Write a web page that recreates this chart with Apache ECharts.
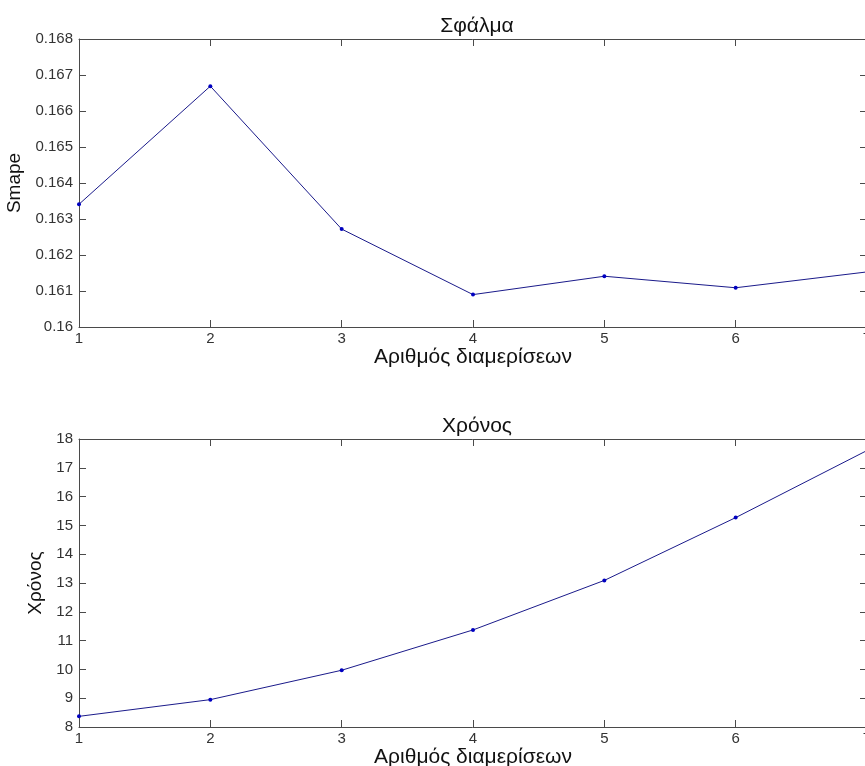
<!DOCTYPE html>
<html>
<head>
<meta charset="utf-8">
<script src="https://cdn.jsdelivr.net/npm/echarts@6/dist/echarts.min.js"></script>
<style>
  html, body { margin: 0; padding: 0; background: #fff; }
  #main { width: 865px; height: 766px; }
</style>
</head>
<body>
<div id="main"></div>
<script>
// partitions on x, one value per partition
var partitions = [1, 2, 3, 4, 5, 6, 7];
var smapeVals = [0.16341, 0.16669, 0.16272, 0.16090, 0.16141, 0.16109, 0.16153];
var timeVals = [8.37, 8.95, 9.97, 11.37, 13.09, 15.27, 17.6];

var xName = 'Αριθμός διαμερίσεων';
var font = '"Liberation Sans", Arial, sans-serif';
var axisColor = '#4a4a4a';
var lineColor = '#1a1a8a';

function pairs(ys) {
  return partitions.map(function (x, i) { return [x, ys[i]]; });
}

function boxAxis(gridIndex, pos, extra) {
  var a = {
    gridIndex: gridIndex,
    type: 'value',
    position: pos,
    axisLine: { show: true, onZero: false, lineStyle: { color: axisColor, width: 1 } },
    axisTick: { show: true, inside: true, length: 7, lineStyle: { color: axisColor } },
    axisLabel: { show: false },
    splitLine: { show: false }
  };
  for (var k in extra) a[k] = extra[k];
  return a;
}

function tickLabels(margin, fmt) {
  var l = { show: true, color: '#333', fontSize: 15, fontFamily: font, margin: margin };
  if (fmt) l.formatter = fmt;
  return l;
}

var chart = echarts.init(document.getElementById('main'));
chart.setOption({
  backgroundColor: '#fff',
  animation: false,
  title: [
    { text: 'Σφάλμα', left: 472, top: 11, textAlign: 'center',
      textStyle: { fontSize: 21, fontWeight: 'normal', color: '#111', fontFamily: font } },
    { text: 'Χρόνος', left: 472, top: 411, textAlign: 'center',
      textStyle: { fontSize: 21, fontWeight: 'normal', color: '#111', fontFamily: font } }
  ],
  grid: [
    { left: 79, top: 39, width: 788, height: 288, outerBoundsMode: 'none', containLabel: false },
    { left: 79, top: 439, width: 788, height: 288, outerBoundsMode: 'none', containLabel: false }
  ],
  xAxis: [
    boxAxis(0, 'bottom', {
      min: 1, max: 7, interval: 1,
      axisLabel: tickLabels(4),
      name: xName, nameLocation: 'middle', nameGap: 20,
      nameTextStyle: { fontSize: 21, color: '#111', fontFamily: font }
    }),
    boxAxis(0, 'top', { min: 1, max: 7, interval: 1 }),
    boxAxis(1, 'bottom', {
      min: 1, max: 7, interval: 1,
      axisLabel: tickLabels(4),
      name: xName, nameLocation: 'middle', nameGap: 20,
      nameTextStyle: { fontSize: 21, color: '#111', fontFamily: font }
    }),
    boxAxis(1, 'top', { min: 1, max: 7, interval: 1 })
  ],
  yAxis: [
    boxAxis(0, 'left', {
      min: 0.16, max: 0.168, interval: 0.001,
      axisLabel: tickLabels(6, function (v) { return String(parseFloat(v.toFixed(3))); }),
      name: 'Smape', nameLocation: 'middle', nameGap: 52, nameRotate: 90,
      nameTextStyle: { fontSize: 19, color: '#111', fontFamily: font }
    }),
    boxAxis(0, 'right', { min: 0.16, max: 0.168, interval: 0.001 }),
    boxAxis(1, 'left', {
      min: 8, max: 18, interval: 1,
      axisLabel: tickLabels(6),
      name: 'Χρόνος', nameLocation: 'middle', nameGap: 32, nameRotate: 90,
      nameTextStyle: { fontSize: 19, color: '#111', fontFamily: font }
    }),
    boxAxis(1, 'right', { min: 8, max: 18, interval: 1 })
  ],
  series: [
    {
      type: 'line', name: 'Smape', xAxisIndex: 0, yAxisIndex: 0,
      data: pairs(smapeVals),
      symbol: 'circle', symbolSize: 4,
      lineStyle: { color: lineColor, width: 1 },
      itemStyle: { color: '#0000c0' }
    },
    {
      type: 'line', name: 'Χρόνος', xAxisIndex: 2, yAxisIndex: 2,
      data: pairs(timeVals),
      symbol: 'circle', symbolSize: 4,
      lineStyle: { color: lineColor, width: 1 },
      itemStyle: { color: '#0000c0' }
    }
  ]
});
</script>
</body>
</html>
